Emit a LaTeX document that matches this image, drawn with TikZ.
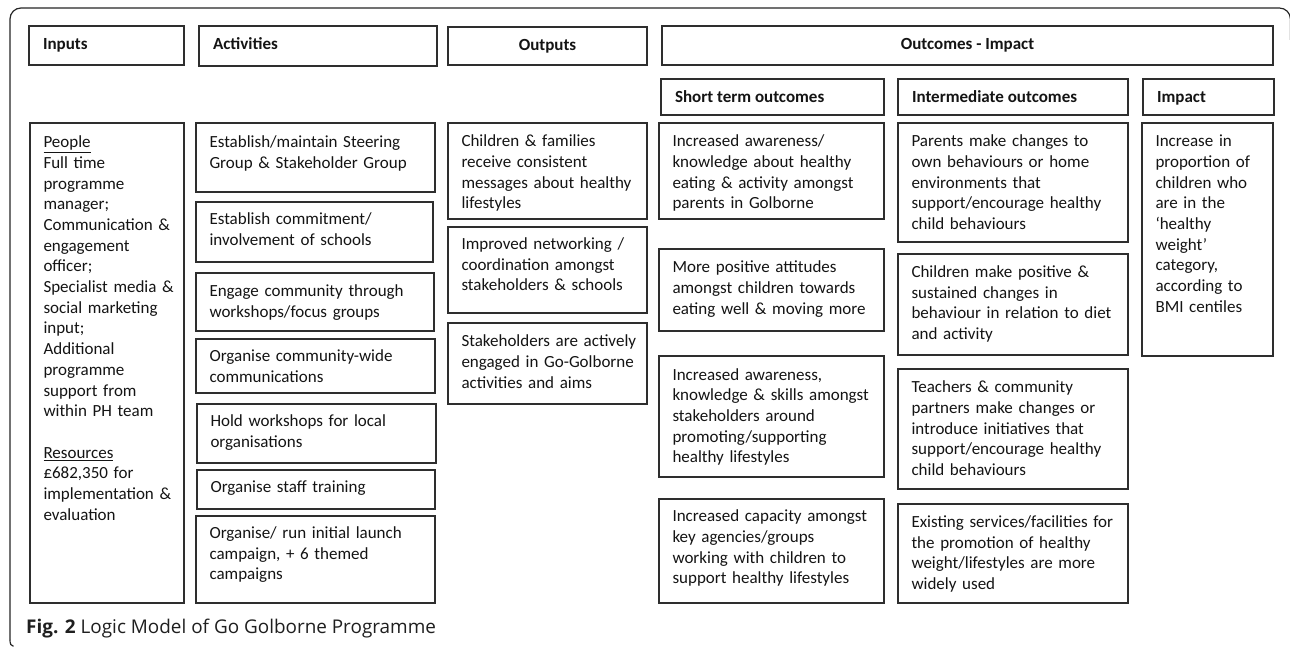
\documentclass[tikz,border=0pt]{standalone}
\usepackage{fontspec}
\setmainfont{Carlito}
\newfontfamily\capfont{Open Sans}
\newcommand\bx[7]{%
  \node[boxst, minimum width={(#4-#2)*1pt}, minimum height={(#5-#3)*1pt}, anchor=north west] (#1) at (#2,#3) {};
  \node[txt, text width={(#4-#2-16)*1pt}, anchor=base west] (#1t) at ([xshift=13.5pt, yshift=-#6pt]#1.north west) {#7};
}
\newcommand\hdc[6]{%
  \node[boxst, minimum width={(#4-#2)*1pt}, minimum height={(#5-#3)*1pt}, anchor=north west] (#1) at (#2,#3) {};
  \node[hdtxt, anchor=base] (#1t) at ([yshift=-23.5pt]#1.north) {#6};
}
\newcommand\hdl[6]{%
  \node[boxst, minimum width={(#4-#2)*1pt}, minimum height={(#5-#3)*1pt}, anchor=north west] (#1) at (#2,#3) {};
  \node[hdtxt, anchor=base west] (#1t) at ([xshift=14pt, yshift=-23.5pt]#1.north west) {#6};
}
\tikzset{
  boxst/.style={draw=black!82, line width=1.1pt, inner sep=0pt, outer sep=0pt, rectangle},
  txt/.style={inner sep=0pt, outer sep=0pt, align=left, text=black!92, font=\fontsize{17}{20.7}\selectfont},
  hdtxt/.style={inner sep=0pt, outer sep=0pt, text=black!92, font=\fontsize{17}{20.7}\selectfont\bfseries},
  frame/.style={draw=black!85, line width=1.2pt, rounded corners=11pt}
}
\begin{document}
\begin{tikzpicture}[x=1pt,y=-1pt]
\useasboundingbox (0,0) rectangle (1290,647);
\clip (0,0) rectangle (1290,647);
\fill[white] (0,0) rectangle (1290,647);
\coordinate (fbl) at (10,640);
\coordinate (ftl) at (10,8);
\coordinate (ftr) at (1290.4,8);
\coordinate (fre) at (1290.4,40);
\coordinate (fbe) at (13.5,646.3);
\draw[frame] (fbl) -- (ftl) -- (ftr) -- (fre);
\draw[draw=black!85, line width=1.2pt] (fbl) .. controls (10,644) and (11,646) .. (fbe);

% headers
\hdl{hin}{29}{26}{184}{65}{Inputs}
\hdl{hact}{199}{26}{437}{66}{Activities}
\hdc{hout}{448}{27}{647}{65}{Outputs}
\hdc{hoi}{662}{26}{1273}{65}{Outcomes - Impact}
\hdl{hst}{661}{79}{884}{115}{Short term outcomes}
\hdl{hint}{898}{79}{1128}{115}{Intermediate outcomes}
\hdl{himp}{1143}{79}{1274}{115}{Impact}

% inputs
\bx{inp}{30}{123}{184}{603}{24.7}{\underline{People}\\Full time\\programme\\manager;\\Communication \&\\engagement\\officer;\\Specialist media \&\\social marketing\\input;\\Additional\\programme\\support from\\within PH team\\[20.7pt]\underline{Resources}\\£682,350 for\\implementation \&\\evaluation}

% activities
\bx{a1}{196}{123}{435}{192}{25}{Establish/maintain Steering\\Group \& Stakeholder Group}
\bx{a2}{196}{202}{433}{262}{23}{Establish commitment/\\involvement of schools}
\bx{a3}{196}{273}{434}{331}{23.7}{Engage community through\\workshops/focus groups}
\bx{a4}{196}{339}{435}{393}{22.7}{Organise community-wide\\communications}
\bx{a5}{197}{404}{436}{463}{22.7}{Hold workshops for local\\organisations}
\bx{a6}{197}{470}{435}{509}{22.7}{Organise staff training}
\bx{a7}{196}{516}{435}{603}{22.3}{Organise/ run initial launch\\campaign, + 6 themed\\campaigns}

% outputs
\bx{o1}{448}{123}{647}{219}{23.7}{Children \& families\\receive consistent\\messages about healthy\\lifestyles}
\bx{o2}{448}{227}{647}{313}{22.3}{Improved networking /\\coordination amongst\\stakeholders \& schools}
\bx{o3}{448}{323}{647}{404}{23.7}{Stakeholders are actively\\engaged in Go-Golborne\\activities and aims}

% short term
\bx{s1}{659}{123}{884}{219}{23.7}{Increased awareness/\\knowledge about healthy\\eating \& activity amongst\\parents in Golborne}
\bx{s2}{659}{249}{884}{331}{23.7}{More positive attitudes\\amongst children towards\\eating well \& moving more}
\bx{s3}{659}{356}{884}{477}{24}{Increased awareness,\\knowledge \& skills amongst\\stakeholders around\\promoting/supporting\\healthy lifestyles}
\bx{s4}{659}{499}{884}{603}{22.7}{Increased capacity amongst\\key agencies/groups\\working with children to\\support healthy lifestyles}

% intermediate
\bx{i1}{898}{123}{1128}{242}{23.7}{Parents make changes to\\own behaviours or home\\environments that\\support/encourage healthy\\child behaviours}
\bx{i2}{898}{254}{1128}{355}{23.3}{Children make positive \&\\sustained changes in\\behaviour in relation to diet\\and activity}
\bx{i3}{898}{369}{1128}{489}{23.7}{Teachers \& community\\partners make changes or\\introduce initiatives that\\support/encourage healthy\\child behaviours}
\bx{i4}{898}{504}{1128}{603}{23.3}{Existing services/facilities for\\the promotion of healthy\\weight/lifestyles are more\\widely used}

% impact
\bx{imp}{1142}{123}{1273}{356}{23.7}{Increase in\\proportion of\\children who\\are in the\\‘healthy\\weight’\\category,\\according to\\BMI centiles}

% caption
\node[inner sep=0pt, anchor=base west, text=black!88] (cap) at (26,633) {\capfont\fontsize{18.9}{22}\selectfont\textbf{Fig. 2} Logic Model of Go Golborne Programme};
\end{tikzpicture}
\end{document}
